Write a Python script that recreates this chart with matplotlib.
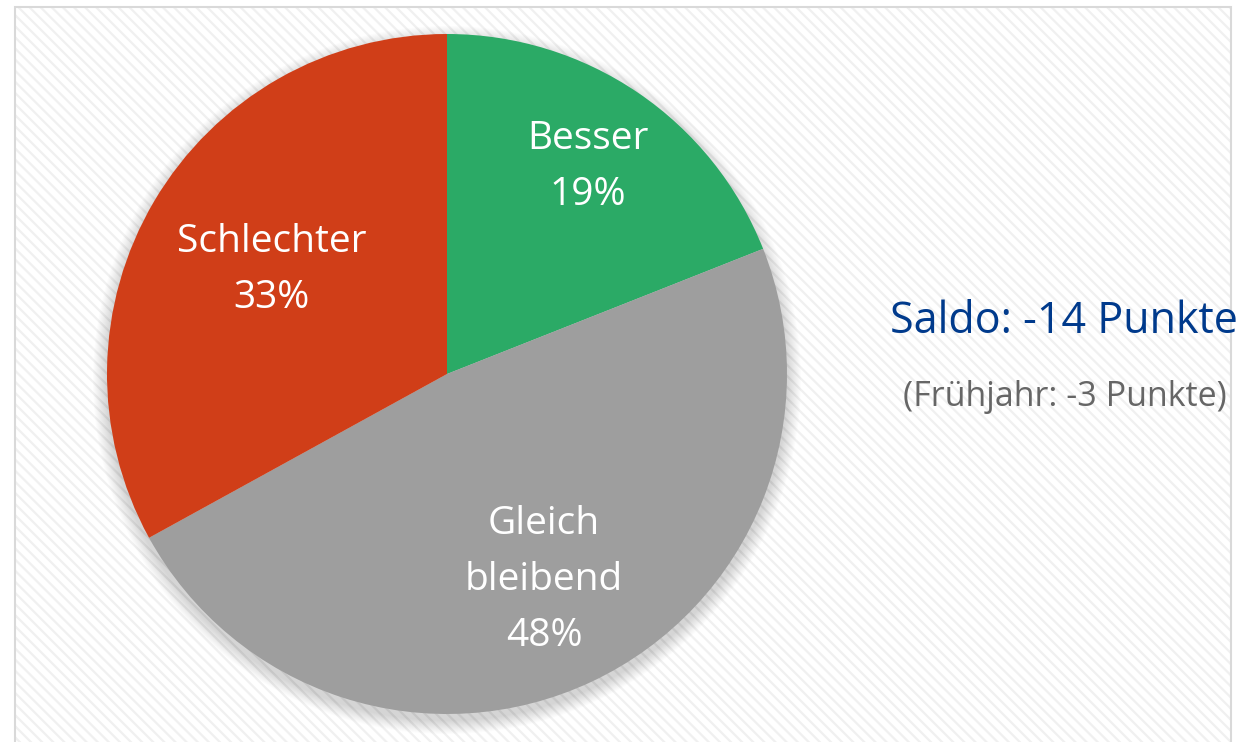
import numpy as np
import matplotlib.pyplot as plt
from matplotlib.patches import Rectangle, Circle

labels = ["Besser", "Gleich\nbleibend", "Schlechter"]
shares = [19, 48, 33]
colors = ["#2BAA66", "#9E9E9E", "#D03E18"]
label_r = [0.735, 0.67, 0.60]
saldo_text = "Saldo: -14 Punkte"
prev_text = "(Frühjahr: -3 Punkte)"

plt.rcParams["font.family"] = ["Open Sans", "DejaVu Sans"]
plt.rcParams["hatch.linewidth"] = 1.6
plt.rcParams["hatch.color"] = "#F0F0F0"

W, H = 1248, 742
fig = plt.figure(figsize=(W / 100, H / 100), dpi=100)
ax = fig.add_axes([0, 0, 1, 1])
ax.set_xlim(0, W)
ax.set_ylim(0, H)
ax.axis("off")

# chart area with hatched background
bg = Rectangle((15, -5), 1216, H - 7 + 5, facecolor="white",
               edgecolor="#F0F0F0", hatch="\\\\\\", linewidth=0, zorder=0)
ax.add_patch(bg)
ax.add_patch(Rectangle((15, -5), 1216, H - 7 + 5, facecolor="none",
                       edgecolor="#D9D9D9", linewidth=1.5, zorder=1))

cx, cy, R = 447, H - 374, 340

# soft shadow
for i in range(14):
    ax.add_patch(Circle((cx, cy - 6), R + 14 - i, facecolor="black",
                        edgecolor="none", alpha=0.012, zorder=2))

wedges, _ = ax.pie(shares, colors=colors, startangle=90, counterclock=False,
                   center=(cx, cy), radius=R, frame=True,
                   wedgeprops=dict(edgecolor="none", zorder=3))
for w in wedges:
    w.set_zorder(3)

for w, lab, s, lr in zip(wedges, labels, shares, label_r):
    ang = np.deg2rad((w.theta1 + w.theta2) / 2)
    x = cx + lr * R * np.cos(ang)
    y = cy + lr * R * np.sin(ang)
    ax.text(x, y, f"{lab}\n{s}%", color="white", fontsize=28,
            ha="center", va="center", linespacing=1.63, zorder=4)

ax.set_xlim(0, W)
ax.set_ylim(0, H)
ax.set_aspect("auto")

ax.text(1064, H - 322, saldo_text, color="#003A8C", fontsize=31,
        ha="center", va="center", zorder=5)
ax.text(1065, H - 397, prev_text, color="#666666", fontsize=24.5,
        ha="center", va="center", zorder=5)

fig.savefig("out.png", dpi=100)
